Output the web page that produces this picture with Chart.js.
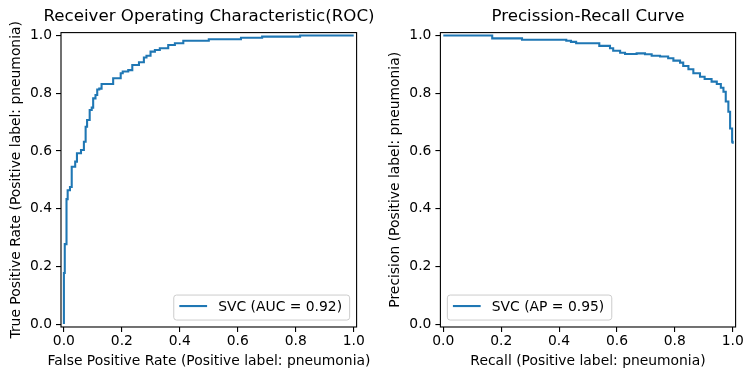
<!DOCTYPE html>
<html>
<head>
<meta charset="utf-8">
<title>ROC and Precision-Recall curves</title>
<script src="https://cdn.jsdelivr.net/npm/chart.js@4.4.0/dist/chart.umd.min.js"></script>
<style>
  html, body { margin: 0; padding: 0; background: #fff; }
  #wrap { position: relative; width: 753px; height: 380px; overflow: hidden; }
  #wrap canvas { position: absolute; top: 0; }
  #roc { left: 0; }
  #pr { left: 376px; }
</style>
</head>
<body>
<div id="wrap">
  <canvas id="roc" width="418" height="380"></canvas>
  <canvas id="pr" width="424" height="380"></canvas>
</div>
<script>
// ROC curve corners: at each fpr the curve steps up to tpr
const rocFpr = [0, 0, 0.003, 0.009, 0.013, 0.021, 0.027, 0.039, 0.045, 0.059, 0.069, 0.075, 0.08, 0.089,
  0.096, 0.101, 0.109, 0.115, 0.122, 0.13, 0.17, 0.196, 0.203, 0.222, 0.236, 0.259, 0.276, 0.285,
  0.299, 0.314, 0.331, 0.36, 0.383, 0.412, 0.5, 0.611, 0.684, 0.815, 1.0];
const rocTpr = [0, 0.177, 0.277, 0.433, 0.464, 0.475, 0.545, 0.563, 0.592, 0.603, 0.632, 0.684, 0.707, 0.742,
  0.75, 0.782, 0.794, 0.813, 0.816, 0.832, 0.852, 0.869, 0.875, 0.88, 0.898, 0.907, 0.924, 0.93,
  0.944, 0.95, 0.956, 0.967, 0.973, 0.982, 0.987, 0.992, 0.996, 1.0, 1.0];

// Precision-recall corners: at each recall the precision steps to the given value
const prRecall = [0, 0.169, 0.272, 0.425, 0.441, 0.459, 0.539, 0.576, 0.587, 0.611, 0.628, 0.668, 0.697,
  0.72, 0.749, 0.777, 0.795, 0.818, 0.829, 0.847, 0.864, 0.887, 0.903, 0.927, 0.945, 0.959, 0.968,
  0.976, 0.985, 0.991, 0.998, 1.0];
const prPrecision = [1.0, 0.99, 0.985, 0.982, 0.978, 0.973, 0.964, 0.956, 0.947, 0.94, 0.936, 0.938, 0.935,
  0.93, 0.927, 0.921, 0.913, 0.906, 0.894, 0.883, 0.869, 0.857, 0.849, 0.84, 0.832, 0.819, 0.805,
  0.771, 0.736, 0.678, 0.632, 0.625];

const tickValues = [0, 0.2, 0.4, 0.6, 0.8, 1.0];
const rocLabel = 'SVC (AUC = 0.92)';
const prLabel = 'SVC (AP = 0.95)';

const BLUE = '#1f77b4';
const FONT = 'DejaVu Sans';
const PT = 100 / 72; // points -> px

Chart.defaults.font.family = FONT;
Chart.defaults.color = '#000';
Chart.defaults.animation = false;

// black box round the plot area
const frame = {
    id: 'frame',
    afterDatasetsDraw(chart) {
        const { ctx, chartArea: a } = chart;
        ctx.save();
        ctx.strokeStyle = '#000';
        ctx.lineWidth = 0.8 * PT;
        ctx.strokeRect(a.left, a.top, a.right - a.left, a.bottom - a.top);
        ctx.restore();
    }
};

// legend box inside the axes (lower right / lower left)
const innerLegend = {
    id: 'innerLegend',
    afterDraw(chart, args, opts) {
        const { ctx, chartArea: a } = chart;
        const ds = chart.data.datasets[0];
        const fs = 10 * PT;
        ctx.save();
        ctx.font = fs + 'px "' + FONT + '"';
        const tw = ctx.measureText(ds.label).width;
        const pad = 0.4 * fs, handle = 2 * fs, gap = 0.8 * fs, off = 0.5 * fs;
        const w = pad * 2 + handle + gap + tw + 2;
        const h = fs + pad * 2;
        const x = opts.loc === 'right' ? a.right - off - w : a.left + off;
        const y = a.bottom - off - h;
        const cy = y + h / 2;

        ctx.beginPath();
        ctx.roundRect(x, y, w, h, 2.8);
        ctx.fillStyle = 'rgba(255,255,255,0.8)';
        ctx.fill();
        ctx.strokeStyle = '#cccccc';
        ctx.lineWidth = 1;
        ctx.stroke();

        ctx.beginPath();
        ctx.moveTo(x + pad, cy - 1.5);
        ctx.lineTo(x + pad + handle, cy - 1.5);
        ctx.strokeStyle = ds.borderColor;
        ctx.lineWidth = 1.5 * PT;
        ctx.stroke();

        ctx.fillStyle = '#000';
        ctx.textBaseline = 'middle';
        ctx.textAlign = 'left';
        ctx.fillText(ds.label, x + pad + handle + gap, cy);
        ctx.restore();
    }
};

function axis(which, title, titlePad, yWidth) {
    return {
        type: 'linear',
        min: -0.01,
        max: 1.01,
        afterBuildTicks: s => { s.ticks = tickValues.map(v => ({ value: v })); },
        afterFit: s => {
            if (which === 'x') s.height = 25.67;
            else s.width = yWidth;
        },
        grid: { drawOnChartArea: false, drawTicks: true, tickLength: 5, color: '#000', lineWidth: 0.8 * PT },
        border: { display: false },
        ticks: {
            font: { size: 10 * PT },
            padding: which === 'x' ? 1 : 4,
            maxRotation: 0,
            autoSkip: false,
            color: '#000',
            callback: v => v.toFixed(1)
        },
        // x titles go in the subtitle (bottom) so they are not squeezed to the plot width
        title: {
            display: which === 'y',
            text: title,
            color: '#000',
            font: { size: 10 * PT },
            padding: { top: titlePad, bottom: 0 }
        }
    };
}

// empty scale on the right, only there to keep the plot area off the canvas edge
function spacer(width) {
    return {
        type: 'linear',
        position: 'right',
        min: 0,
        max: 1,
        grid: { display: false },
        border: { display: false },
        ticks: { display: false },
        title: { display: false },
        afterFit: s => { s.width = width; }
    };
}

function makeChart(id, cfg) {
    return new Chart(document.getElementById(id), {
        type: 'line',
        data: {
            datasets: [{
                label: cfg.label,
                data: cfg.xs.map((x, i) => ({ x: x, y: cfg.ys[i] })),
                borderColor: BLUE,
                borderWidth: 1.5 * PT,
                pointRadius: 0,
                stepped: 'before',
                fill: false
            }]
        },
        options: {
            responsive: false,
            animation: false,
            layout: { padding: 0 },
            plugins: {
                legend: { display: false },
                tooltip: { enabled: false },
                title: {
                    display: true,
                    text: cfg.title,
                    color: '#000',
                    font: { size: 12 * PT, weight: 'normal', lineHeight: 1.2 },
                    padding: { top: 7, bottom: 5.6 }
                },
                subtitle: {
                    display: true,
                    text: cfg.xTitle,
                    position: 'bottom',
                    color: '#000',
                    font: { size: 10 * PT, weight: 'normal', lineHeight: 1.2 },
                    padding: { top: 0, bottom: 10.67 }
                },
                innerLegend: { loc: cfg.legendLoc }
            },
            scales: {
                x: axis('x', cfg.xTitle),
                y: axis('y', cfg.yTitle, cfg.yTitlePad, cfg.yWidth),
                pad: spacer(cfg.padRight)
            }
        },
        plugins: [frame, innerLegend]
    });
}

// ROC (canvas is wider than its half so the titles centre on the plot)
makeChart('roc', {
    title: 'Receiver Operating Characteristic(ROC)',
    label: rocLabel,
    xs: rocFpr,
    ys: rocTpr,
    xTitle: 'False Positive Rate (Positive label: pneumonia)',
    yTitle: 'True Positive Rate (Positive label: pneumonia)',
    yTitlePad: 8.2,
    yWidth: 61,
    padRight: 61.4,
    legendLoc: 'right'
});

// Precision-recall
makeChart('pr', {
    title: 'Precission-Recall Curve',
    label: prLabel,
    xs: prRecall,
    ys: prPrecision,
    xTitle: 'Recall (Positive label: pneumonia)',
    yTitle: 'Precision (Positive label: pneumonia)',
    yTitlePad: 10.7,
    yWidth: 64.4,
    padRight: 64.4,
    legendLoc: 'left'
});
</script>
</body>
</html>
